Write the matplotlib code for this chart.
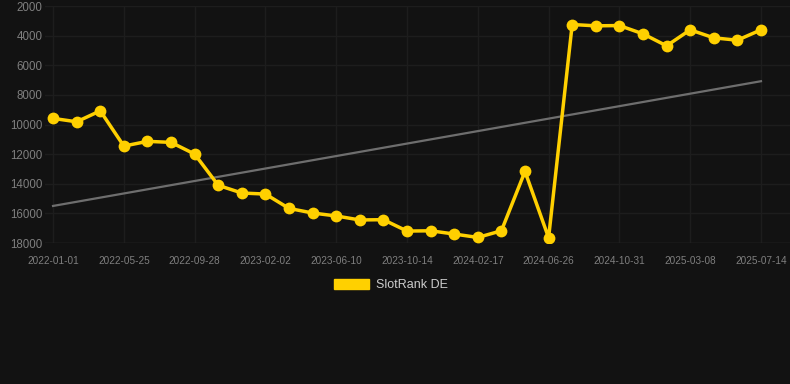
import numpy as np
import matplotlib
matplotlib.use("Agg")
import matplotlib.pyplot as plt
from matplotlib.patches import Patch

plt.rcParams['font.family'] = ['Liberation Sans', 'DejaVu Sans']

# rank values, one point every ~6 weeks (y axis is inverted)
ranks = [9580, 9810, 9070, 11450, 11130, 11200, 11990, 14100, 14620,
         14690, 15660, 15970, 16170, 16440, 16420, 17190, 17170, 17390,
         17620, 17170, 13160, 17640, 3240, 3330, 3310, 3870, 4680, 3600,
         4140, 4300, 3600]
# every third point has a label
tick_labels = ['2022-01-01', '2022-05-25', '2022-09-28', '2023-02-02',
               '2023-06-10', '2023-10-14', '2024-02-17', '2024-06-26',
               '2024-10-31', '2025-03-08', '2025-07-14']
y_ticks = [2000, 4000, 6000, 8000, 10000, 12000, 14000, 16000, 18000]

bg = '#121212'
yellow = '#FFD000'

fig = plt.figure(figsize=(7.9, 3.84), dpi=100, facecolor=bg)
ax = fig.add_axes([0.057, 0.367, 0.943, 0.617])
ax.set_facecolor(bg)

x = np.arange(len(ranks))

# trend line (linear fit)
k, b = np.polyfit(x, ranks, 1)
ax.plot(x, k * x + b, color='#6e6e6e', lw=1.6, zorder=2)

ax.plot(x, ranks, color=yellow, lw=2.5, marker='o', ms=8.5,
        markeredgewidth=0, zorder=3)

ax.set_xlim(-0.34, 31.23)
ax.set_ylim(18000, 2000)
ax.set_yticks(y_ticks)
ax.set_yticklabels([str(v) for v in y_ticks])
ax.set_xticks(x[::3])
ax.set_xticklabels(tick_labels)

ax.grid(True, color='#1d1d1d', lw=1)
ax.set_axisbelow(True)
for s in ax.spines.values():
    s.set_visible(False)
ax.axhline(18000, color='#2a2a2a', lw=1, zorder=1)
ax.tick_params(axis='both', colors='#7f7f7f', length=0)
ax.tick_params(axis='x', pad=9, labelsize=7.2)
ax.tick_params(axis='y', pad=2, labelsize=8.3)

fig.legend(handles=[Patch(facecolor=yellow, edgecolor=yellow)],
           labels=['SlotRank DE'], loc='center', bbox_to_anchor=(0.495, 0.258),
           frameon=False, fontsize=9, labelcolor='#cccccc',
           handlelength=2.8, handleheight=0.9, handletextpad=0.5)

fig.savefig('out.png', dpi=100, facecolor=bg)
